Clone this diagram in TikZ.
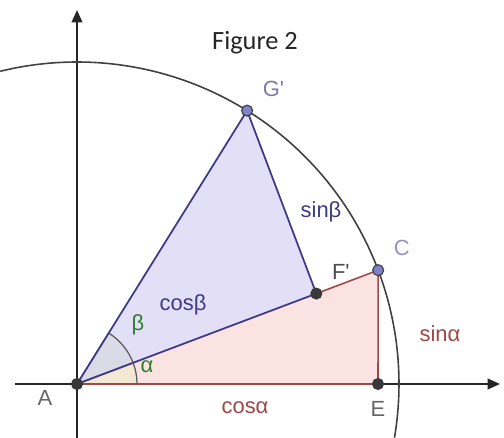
\documentclass[tikz,border=0pt]{standalone}
\usepackage{fontspec}
\setmainfont{Liberation Sans}
\newfontfamily\capfont{Carlito}
\usepackage{tikz}
\usetikzlibrary{positioning,arrows.meta,calc}
\definecolor{redline}{HTML}{9E4848}
\definecolor{redfill}{HTML}{FBE3E1}
\definecolor{blueline}{HTML}{3E3A86}
\definecolor{bluefill}{HTML}{E3DFF6}
\definecolor{ptblue}{HTML}{7F82C8}
\definecolor{ptdark}{HTML}{383838}
\definecolor{anggreen}{HTML}{2F7F2F}

\begin{document}
\begin{tikzpicture}[x=0.02cm,y=0.02cm,
  every node/.style={font=\fontsize{12.5}{14}\selectfont},
  pt/.style={circle,draw=ptdark,line width=0.6pt,minimum size=0.22cm,inner sep=0pt},
  darkpt/.style={pt,fill=ptdark},
  bluept/.style={pt,fill=ptblue},
  axis/.style={line width=1.1pt,black!85,-{Triangle[length=7pt,width=6pt]}},
  ptlabel/.style={text=black!60},
  redlab/.style={text=redline},
  bluelab/.style={text=blueline},
  anglab/.style={text=anggreen},
]
\useasboundingbox (0,0) rectangle (504,438);

\coordinate (A) at (77,54);
\coordinate (E) at (378,54);
\coordinate (C) at (378.2,167.8);
\coordinate (F) at (316.3,144.4);
\coordinate (G) at (247.1,327.4);

% filled triangles
\fill[redfill] (A) -- (E) -- (C) -- cycle;
\fill[bluefill] (A) -- (F) -- (G) -- cycle;

% angle marks
\filldraw[fill=olive!15,fill opacity=0.6,draw=black!65,line width=0.7pt]
  (A) -- ++(0:60) arc[start angle=0,end angle=20.7,radius=60] -- cycle;
\filldraw[fill=blue!25!black!15,fill opacity=0.7,draw=black!65,line width=0.7pt]
  (A) -- ++(20.7:60) arc[start angle=20.7,end angle=58.1,radius=60] -- cycle;

% axes and unit circle
\draw[axis] (15,54) -- (500,54);
\draw[axis] (77,0) -- (77,428);
\draw[line width=0.9pt,black!75] (A) ++(-9.6:322) arc[start angle=-9.6,end angle=103.8,radius=322];

% sides
\draw[redline,line width=0.9pt] (A) -- (E) -- (C) -- (F);
\draw[blueline,line width=1pt] (A) -- (F) -- (G) -- cycle;

% points
\node[darkpt] (a) at (A) {};
\node[darkpt] (e) at (E) {};
\node[darkpt] (f) at (F) {};
\node[bluept] (c) at (C) {};
\node[bluept] (g) at (G) {};

\node[ptlabel] (la) at (45,40) {A};
\node[ptlabel,below=3pt of e] (le) {E};
\node[text=black!70,above right=2pt and 3pt of f] (lf) {F\textquotesingle};
\node[text=ptblue!80!black!70,above right=2pt and 3pt of c] (lc) {C};
\node[text=ptblue!70!black!80,above right=2pt and 3pt of g] (lg) {G\textquotesingle};

\node[redlab] (cosa) at (245,30) {cosα};
\node[redlab] (sina) at (440,104) {sinα};
\node[bluelab] (cosb) at (183,133) {cosβ};
\node[bluelab] (sinb) at (321,226) {sinβ};
\node[anglab] (alpha) at (147,71) {α};
\node[anglab] (beta) at (138,113) {β};

\node[font=\capfont\fontsize{15}{17}\selectfont,text=black!85] (title) at (255,395) {Figure 2};
\end{tikzpicture}
\end{document}
